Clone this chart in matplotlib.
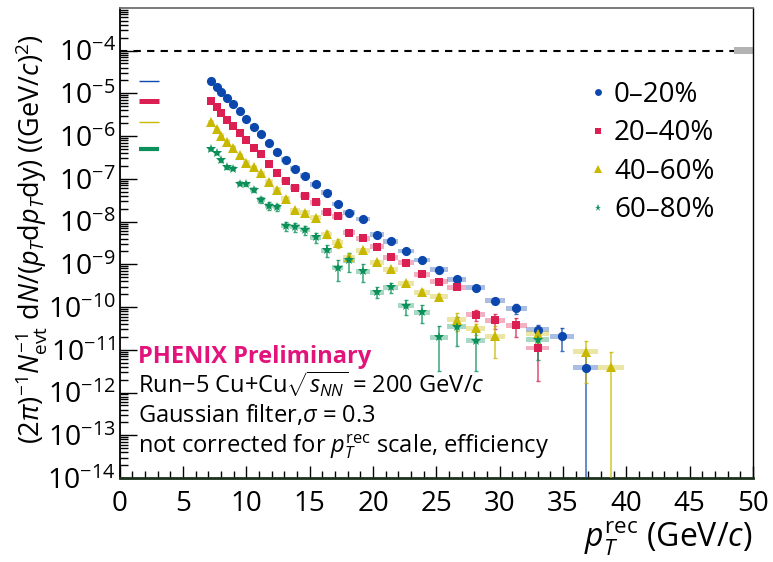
import numpy as np
import matplotlib
matplotlib.use("Agg")
import matplotlib.pyplot as plt
from matplotlib.lines import Line2D

plt.rcParams['font.family'] = ['Open Sans', 'DejaVu Sans']
plt.rcParams['mathtext.fontset'] = 'custom'
plt.rcParams['mathtext.rm'] = 'Open Sans'
plt.rcParams['mathtext.it'] = 'Open Sans:italic'
plt.rcParams['mathtext.bf'] = 'Open Sans:bold'

# pT bin centres (GeV/c), shared by all centrality classes
pt = [7.19, 7.64, 8.03, 8.48, 8.95, 9.48, 10.0, 10.56, 11.16, 11.8, 12.42,
      13.09, 13.85, 14.64, 15.48, 16.33, 17.2, 18.1, 19.2, 20.3, 21.4, 22.6,
      23.85, 25.2, 26.6, 28.1, 29.66, 31.3, 33.0, 34.9, 36.8, 38.8]

nan = np.nan
# log10 of the yield (nan = no point)
log_0_20 = [-4.70, -4.84, -4.96, -5.10, -5.26, -5.42, -5.61, -5.78, -5.96, -6.17,
            -6.38, -6.55, -6.76, -6.93, -7.13, -7.33, -7.59, -7.79, -7.94, -8.31,
            -8.46, -8.69, -8.90, -9.13, -9.35, -9.55, -9.85, -10.03, -10.53, -10.68,
            -11.42, nan]
log_20_40 = [-5.18, -5.31, -5.46, -5.62, -5.76, -5.93, -6.10, -6.28, -6.43, -6.66,
             -6.86, -7.04, -7.21, -7.40, -7.55, -7.78, -7.88, -8.26, -8.39, -8.59,
             -8.84, -8.96, -9.23, -9.41, -9.54, -10.18, -10.31, -10.43, -10.96, nan,
             nan, nan]
log_40_60 = [-5.68, -5.84, -5.99, -6.13, -6.27, -6.45, -6.62, -6.73, -6.87, -7.07,
             -7.25, -7.47, -7.74, -7.79, -7.91, -8.29, -8.50, -8.83, -8.67, -8.95,
             -9.12, -9.44, -9.65, -9.76, -10.30, -10.50, -10.68, nan, -10.62, nan,
             -11.05, -11.41]
log_60_80 = [-6.31, -6.40, -6.57, -6.73, -6.76, -7.11, -7.12, -7.26, -7.49, -7.63,
             -7.66, -8.10, -8.12, -8.19, -8.37, -8.67, -9.08, -8.91, -9.16, -9.65,
             -9.54, -9.97, -10.12, -10.71, -10.46, -10.79, nan, nan, -10.76, nan,
             nan, nan]

# relative statistical errors
err_0_20 = [0.02] * 14 + [0.03, 0.03, 0.04, 0.04, 0.05, 0.05, 0.06, 0.07, 0.08,
                          0.09, 0.10, 0.12, 0.15, 0.25, 0.30, 0.55, 1.05, nan]
err_20_40 = [0.02] * 20 + [0.04, 0.05, 0.06, 0.07, 0.10, 0.30, 0.38, 0.47, 0.83,
                           nan, nan, nan]
err_40_60 = [0.03] * 9 + [0.05, 0.06, 0.08, 0.10, 0.10, 0.12, 0.20, 0.25, 0.15,
                          0.12, 0.10, 0.10, 0.12, 0.15, 0.15, 0.45, 0.30, 0.70,
                          nan, 0.40, nan, 0.81, 1.28]
err_60_80 = [0.05, 0.05, 0.06, 0.08, 0.08, 0.10, 0.10, 0.12, 0.17, 0.20, 0.20,
             0.25, 0.25, 0.25, 0.28, 0.31, 0.50, 0.47, 0.45, 0.29, 0.25, 0.40,
             0.45, 0.84, 0.65, 0.80, nan, nan, 0.67, nan, nan, nan]

labels = ['0\u201320%', '20\u201340%', '40\u201360%', '60\u201380%']
colors = ['#0b47ad', '#dc1f52', '#c9b800', '#0a9058']
markers = ['o', 's', '^', '*']
msizes = [6.6, 6.2, 6.8, 7.0]
norm_lw = [1.0, 3.6, 1.0, 3.0]

sys_frac = 1.14  # systematic box half-height (factor)

fig = plt.figure(figsize=(7.73, 5.62), dpi=100)
ax = fig.add_axes([0.155, 0.1495, 0.819, 0.8365])
ax.set_yscale('log')
ax.set_xlim(0, 50)
ax.set_ylim(1e-14, 1e-3)

x = np.array(pt)
edges = np.concatenate([[x[0] - (x[1] - x[0]) / 2], (x[1:] + x[:-1]) / 2,
                        [x[-1] + (x[-1] - x[-2]) / 2]])
widths = np.diff(edges)

series = [(log_0_20, err_0_20), (log_20_40, err_20_40),
          (log_40_60, err_40_60), (log_60_80, err_60_80)]

# systematic boxes
for (lg, er), c in zip(series, colors):
    y = 10.0 ** np.array(lg)
    m = ~np.isnan(y)
    ax.bar(x[m], y[m] * sys_frac - y[m] / sys_frac, bottom=y[m] / sys_frac,
           width=widths[m], color=c, alpha=0.35, linewidth=0, zorder=2)

# statistical error bars and markers
for (lg, er), c, mk, ms in zip(series, colors, markers, msizes):
    y = 10.0 ** np.array(lg)
    e = np.array(er)
    m = ~np.isnan(y)
    lo = y[m] * np.minimum(e[m], 0.99999)
    hi = y[m] * e[m]
    ax.errorbar(x[m], y[m], yerr=[lo, hi], fmt='none', ecolor=c, elinewidth=1.1,
                capsize=1.5, capthick=1.0, alpha=0.8, zorder=3)
    ax.plot(x[m], y[m], linestyle='none', marker=mk, color=c, markersize=ms,
            markeredgewidth=0, zorder=4)

# normalisation lines at the left
for (lg, er), c, lw in zip(series, colors, norm_lw):
    ax.plot([1.5, 3.1], [10.0 ** lg[0]] * 2, color=c, linewidth=lw,
            solid_capstyle='butt', zorder=3)

# dashed reference line and its grey box
ax.axhline(1e-4, color='black', linestyle=(0, (3.5, 3)), linewidth=1.5, zorder=1)
ax.bar([49.25], [1e-4 * 1.2 - 1e-4 / 1.2], bottom=1e-4 / 1.2, width=1.5,
       color='#b3b3b3', linewidth=0, zorder=2)

# axes styling (ROOT-like)
ax.spines['left'].set_color('black')
ax.spines['left'].set_linewidth(1.3)
ax.spines['bottom'].set_color('#1c301c')
ax.spines['bottom'].set_linewidth(2.0)
ax.spines['top'].set_color('#707070')
ax.spines['top'].set_linewidth(1.3)
ax.spines['right'].set_color('black')
ax.spines['right'].set_linewidth(1.0)

ax.set_xticks(np.arange(0, 51, 5))
ax.set_xticks(np.arange(0, 51, 1), minor=True)
ax.set_xticklabels([str(v) for v in range(0, 51, 5)], fontsize=20)
decades = np.arange(-14, -3)
ax.set_yticks(10.0 ** decades)
ax.set_yticklabels([r'$10^{%d}$' % d for d in decades], fontsize=20.5)
ax.yaxis.set_minor_locator(matplotlib.ticker.LogLocator(base=10, subs=np.arange(2, 10), numticks=20))
ax.yaxis.set_minor_formatter(matplotlib.ticker.NullFormatter())
ax.tick_params(axis='y', which='major', direction='in', length=12, width=1.0,
               right=False, pad=3)
ax.tick_params(axis='y', which='minor', direction='in', length=6, width=1.0, right=False)
ax.tick_params(axis='x', which='major', direction='in', length=9, width=1.0,
               top=False, pad=9)
ax.tick_params(axis='x', which='minor', direction='in', length=5, width=1.0, top=False)

# axis titles
fig.text(0.040, 0.575,
         r'$(2\pi)^{-1}N_{\rm evt}^{-1}$ d$N$/($p_{T}$d$p_{T}$dy) ((GeV/$c$)$^{2}$)',
         rotation=90, ha='center', va='center', fontsize=19.5)
fig.text(0.973, 0.027, r'$p_{T}^{\rm rec}$ (GeV/$c$)', ha='right', va='baseline',
         fontsize=23)

# annotations
ax.text(0.028, 0.245, 'PHENIX Preliminary', transform=ax.transAxes, fontsize=17,
        fontweight='bold', color='#e2147c', va='baseline')
ax.text(0.028, 0.181, r'Run$-$5 Cu+Cu$\sqrt{s_{NN}}$ = 200 GeV/$c$',
        transform=ax.transAxes, fontsize=17, va='baseline')
ax.text(0.028, 0.119, r'Gaussian filter,$\sigma$ = 0.3', transform=ax.transAxes,
        fontsize=17, va='baseline')
ax.text(0.028, 0.055, r'not corrected for $p_{T}^{\rm rec}$ scale, efficiency',
        transform=ax.transAxes, fontsize=17, va='baseline')

# legend
handles = [Line2D([], [], linestyle='none', marker=mk, color=c, markersize=ms * 0.75,
                  markeredgewidth=0)
           for c, mk, ms in zip(colors, markers, msizes)]
ax.legend(handles, labels, loc='upper left', bbox_to_anchor=(0.7376, 0.845),
          frameon=False, fontsize=20, handlelength=0.8, handletextpad=0.18,
          labelspacing=0.38, borderpad=0, borderaxespad=0)

fig.savefig('out.png', dpi=100)
